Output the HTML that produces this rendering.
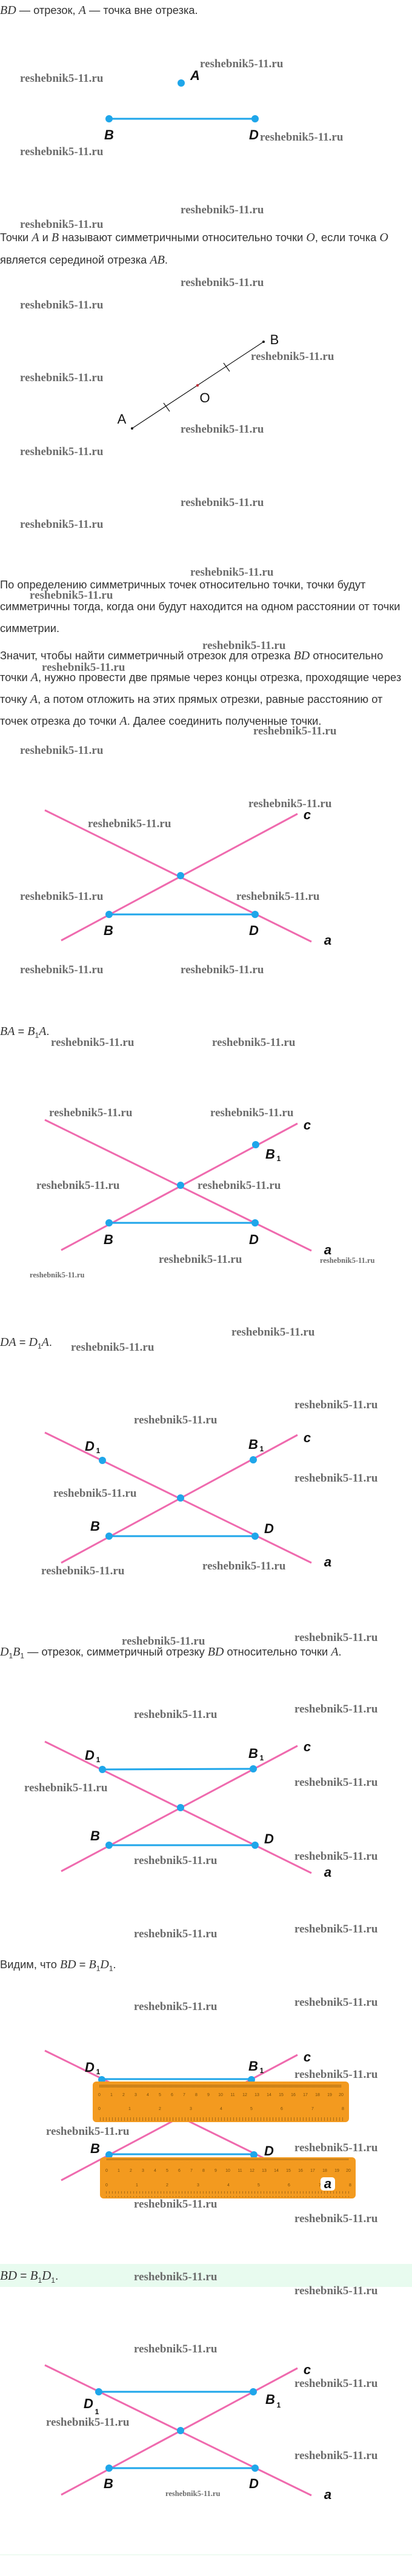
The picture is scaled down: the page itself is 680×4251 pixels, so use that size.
<!DOCTYPE html>
<html><head><meta charset="utf-8"><style>
body{margin:0;width:680px;height:4251px;position:relative;background:#fff;overflow:hidden}
.t{position:absolute;left:0;font:18.3px/22px "Liberation Sans",sans-serif;color:#333;white-space:nowrap}
.m{font-family:"Liberation Serif",serif;font-style:italic;font-size:20px}
.t sub{font-size:12px}
.w{position:absolute;font:bold 19px/22px "Liberation Serif",serif;color:#6c6c6c;white-space:nowrap}
.ws{font-size:12.5px;line-height:14px}
svg{position:absolute;left:0;top:0}
</style></head><body>
<div style="position:absolute;left:0;top:3736px;width:680px;height:38px;background:#e8fbef"></div>
<div style="position:absolute;left:0;top:4215px;width:680px;height:2px;background:#eefaf2"></div>

<div class="t" style="top:6px"><span class="m">BD</span> — отрезок, <span class="m">A</span> — точка вне отрезка.</div>
<div class="t" style="top:381px">Точки <span class="m">A</span> и <span class="m">B</span> называют симметричными относительно точки <span class="m">O</span>, если точка <span class="m">O</span></div>
<div class="t" style="top:418px">является серединой отрезка <span class="m">AB</span>.</div>
<div class="t" style="top:954px">По определению симметричных точек относительно точки, точки будут</div>
<div class="t" style="top:990px">симметричны тогда, когда они будут находится на одном расстоянии от точки</div>
<div class="t" style="top:1026px">симметрии.</div>
<div class="t" style="top:1071px">Значит, чтобы найти симметричный отрезок для отрезка <span class="m">BD</span> относительно</div>
<div class="t" style="top:1107px">точки <span class="m">A</span>, нужно провести две прямые через концы отрезка, проходящие через</div>
<div class="t" style="top:1143px">точку <span class="m">A</span>, а потом отложить на этих прямых отрезки, равные расстоянию от</div>
<div class="t" style="top:1179px">точек отрезка до точки <span class="m">A</span>. Далее соединить полученные точки.</div>
<div class="t" style="top:1691px"><span class="m">BA</span> = <span class="m">B</span><sub>1</sub><span class="m">A</span>.</div>
<div class="t" style="top:2204px"><span class="m">DA</span> = <span class="m">D</span><sub>1</sub><span class="m">A</span>.</div>
<div class="t" style="top:2715px"><span class="m">D</span><sub>1</sub><span class="m">B</span><sub>1</sub> — отрезок, симметричный отрезку <span class="m">BD</span> относительно точки <span class="m">A</span>.</div>
<div class="t" style="top:3231px">Видим, что <span class="m">BD</span> = <span class="m">B</span><sub>1</sub><span class="m">D</span><sub>1</sub>.</div>
<div class="t" style="top:3744px;font-size:19px"><span class="m" style="font-size:21px">BD</span> = <span class="m" style="font-size:21px">B</span><sub>1</sub><span class="m" style="font-size:21px">D</span><sub>1</sub>.</div>

<svg width="680" height="4251" viewBox="0 0 680 4251">
<defs>
<pattern id="mm" x="0" y="0" width="2" height="10" patternUnits="userSpaceOnUse"><rect x="0" y="0" width="0.7" height="5" fill="#8a5a10"/></pattern>
<pattern id="mmb" x="0" y="0" width="5" height="10" patternUnits="userSpaceOnUse"><rect x="0" y="4" width="0.7" height="6" fill="#8a5a10"/></pattern>
</defs>
<g font-family="Liberation Sans, sans-serif" font-weight="bold" font-style="italic" font-size="22" fill="#111" text-anchor="middle">
<line x1="180" y1="196" x2="421" y2="196" stroke="#1fa6ea" stroke-width="3"/>
<circle cx="299" cy="137" r="6" fill="#1fa6ea"/><circle cx="180" cy="196" r="6" fill="#1fa6ea"/><circle cx="421" cy="196" r="6" fill="#1fa6ea"/>
<text x="322" y="132">A</text><text x="180" y="230">B</text><text x="419" y="230">D</text>
<line x1="218" y1="707" x2="435" y2="564" stroke="#111" stroke-width="1.2"/>
<line x1="270" y1="665" x2="280" y2="679" stroke="#111" stroke-width="1.2"/>
<line x1="369" y1="599" x2="379" y2="613" stroke="#111" stroke-width="1.2"/>
<circle cx="218" cy="707" r="2" fill="#111"/><circle cx="435" cy="564" r="2" fill="#111"/><circle cx="326" cy="636" r="2.2" fill="#c0303a"/>
<g font-weight="normal" font-style="normal" font-size="22"><text x="453" y="568">B</text><text x="201" y="699">A</text><text x="338" y="664">O</text></g>
<g stroke="#ef6aae" stroke-width="3"><line x1="74" y1="1337" x2="514" y2="1554"/><line x1="101" y1="1552" x2="491" y2="1343"/></g>
<line x1="180" y1="1509" x2="421" y2="1509" stroke="#1fa6ea" stroke-width="3"/>
<circle cx="298" cy="1445" r="6" fill="#1fa6ea"/><circle cx="180" cy="1509" r="6" fill="#1fa6ea"/><circle cx="421" cy="1509" r="6" fill="#1fa6ea"/>
<text x="179" y="1543">B</text><text x="419" y="1543">D</text><text x="507" y="1352">c</text><text x="541" y="1559">a</text>
<g stroke="#ef6aae" stroke-width="3"><line x1="74" y1="1848" x2="514" y2="2064"/><line x1="101" y1="2063" x2="491" y2="1854"/></g>
<line x1="180" y1="2018" x2="421" y2="2018" stroke="#1fa6ea" stroke-width="3"/>
<circle cx="298" cy="1956" r="6" fill="#1fa6ea"/><circle cx="422" cy="1889" r="6" fill="#1fa6ea"/><circle cx="180" cy="2018" r="6" fill="#1fa6ea"/><circle cx="421" cy="2018" r="6" fill="#1fa6ea"/>
<text x="446" y="1912">B</text><text x="460" y="1916" font-size="12" font-style="normal">1</text>
<text x="179" y="2053">B</text><text x="419" y="2053">D</text><text x="507" y="1864">c</text><text x="541" y="2070">a</text>
<g stroke="#ef6aae" stroke-width="3"><line x1="74" y1="2364" x2="514" y2="2579"/><line x1="101" y1="2579" x2="491" y2="2368"/></g>
<line x1="180" y1="2535" x2="421" y2="2535" stroke="#1fa6ea" stroke-width="3"/>
<circle cx="298" cy="2472" r="6" fill="#1fa6ea"/><circle cx="169" cy="2410" r="6" fill="#1fa6ea"/><circle cx="418" cy="2409" r="6" fill="#1fa6ea"/><circle cx="180" cy="2535" r="6" fill="#1fa6ea"/><circle cx="421" cy="2535" r="6" fill="#1fa6ea"/>
<text x="148" y="2394">D</text><text x="162" y="2398" font-size="12" font-style="normal">1</text>
<text x="418" y="2391">B</text><text x="432" y="2395" font-size="12" font-style="normal">1</text>
<text x="157" y="2526">B</text><text x="444" y="2530">D</text><text x="507" y="2380">c</text><text x="541" y="2585">a</text>
<g stroke="#ef6aae" stroke-width="3"><line x1="74" y1="2874" x2="514" y2="3091"/><line x1="101" y1="3088" x2="491" y2="2881"/></g>
<line x1="169" y1="2920" x2="418" y2="2919" stroke="#1fa6ea" stroke-width="3"/>
<line x1="180" y1="3045" x2="421" y2="3045" stroke="#1fa6ea" stroke-width="3"/>
<circle cx="298" cy="2983" r="6" fill="#1fa6ea"/><circle cx="169" cy="2920" r="6" fill="#1fa6ea"/><circle cx="418" cy="2919" r="6" fill="#1fa6ea"/><circle cx="180" cy="3045" r="6" fill="#1fa6ea"/><circle cx="421" cy="3045" r="6" fill="#1fa6ea"/>
<text x="148" y="2904">D</text><text x="162" y="2908" font-size="12" font-style="normal">1</text>
<text x="418" y="2901">B</text><text x="432" y="2905" font-size="12" font-style="normal">1</text>
<text x="157" y="3037">B</text><text x="444" y="3042">D</text><text x="507" y="2890">c</text><text x="541" y="3097">a</text>
<g stroke="#ef6aae" stroke-width="3"><line x1="74" y1="3384" x2="514" y2="3600"/><line x1="101" y1="3598" x2="491" y2="3391"/></g>
<line x1="168" y1="3431" x2="415" y2="3431" stroke="#1fa6ea" stroke-width="3"/>
<line x1="180" y1="3555" x2="419" y2="3555" stroke="#1fa6ea" stroke-width="3"/>
<circle cx="168" cy="3432" r="6" fill="#1fa6ea"/><circle cx="415" cy="3432" r="6" fill="#1fa6ea"/><circle cx="180" cy="3556" r="6" fill="#1fa6ea"/><circle cx="419" cy="3556" r="6" fill="#1fa6ea"/>
<text x="148" y="3419">D</text><text x="162" y="3423" font-size="12" font-style="normal">1</text>
<text x="418" y="3417">B</text><text x="432" y="3421" font-size="12" font-style="normal">1</text>
<text x="157" y="3553">B</text><text x="444" y="3557">D</text><text x="507" y="3402">c</text>
<g font-style="normal" font-weight="normal" font-size="7" fill="#7a4e0a">
<rect x="153" y="3435" width="423" height="67" rx="6" fill="#f39a1f"/>
<rect x="163" y="3437" width="401" height="8" fill="url(#mm)"/>
<rect x="163" y="3490" width="403" height="10" fill="url(#mmb)"/>
<text x="164" y="3459">0</text><text x="184" y="3459">1</text><text x="204" y="3459">2</text><text x="224" y="3459">3</text><text x="244" y="3459">4</text><text x="264" y="3459">5</text><text x="284" y="3459">6</text><text x="304" y="3459">7</text><text x="324" y="3459">8</text><text x="344" y="3459">9</text><text x="364" y="3459">10</text><text x="384" y="3459">11</text><text x="404" y="3459">12</text><text x="424" y="3459">13</text><text x="444" y="3459">14</text><text x="464" y="3459">15</text><text x="484" y="3459">16</text><text x="504" y="3459">17</text><text x="524" y="3459">18</text><text x="544" y="3459">19</text><text x="563" y="3459">20</text>
<text x="164" y="3482">0</text><text x="214" y="3482">1</text><text x="264" y="3482">2</text><text x="315" y="3482">3</text><text x="365" y="3482">4</text><text x="415" y="3482">5</text><text x="465" y="3482">6</text><text x="516" y="3482">7</text><text x="566" y="3482">8</text>
<rect x="165" y="3560" width="422" height="68" rx="6" fill="#f39a1f"/>
<rect x="175" y="3562" width="401" height="8" fill="url(#mm)"/>
<rect x="175" y="3616" width="403" height="10" fill="url(#mmb)"/>
<text x="176" y="3584">0</text><text x="196" y="3584">1</text><text x="216" y="3584">2</text><text x="236" y="3584">3</text><text x="256" y="3584">4</text><text x="276" y="3584">5</text><text x="296" y="3584">6</text><text x="316" y="3584">7</text><text x="336" y="3584">8</text><text x="356" y="3584">9</text><text x="376" y="3584">10</text><text x="396" y="3584">11</text><text x="416" y="3584">12</text><text x="436" y="3584">13</text><text x="456" y="3584">14</text><text x="476" y="3584">15</text><text x="496" y="3584">16</text><text x="516" y="3584">17</text><text x="536" y="3584">18</text><text x="556" y="3584">19</text><text x="575" y="3584">20</text>
<text x="176" y="3608">0</text><text x="226" y="3608">1</text><text x="276" y="3608">2</text><text x="327" y="3608">3</text><text x="377" y="3608">4</text><text x="427" y="3608">5</text><text x="477" y="3608">6</text><text x="528" y="3608">7</text><text x="578" y="3608">8</text>
</g>
<rect x="529" y="3593" width="24" height="22" rx="5" fill="#fff"/>
<text x="541" y="3611">a</text>
<g stroke="#ef6aae" stroke-width="3"><line x1="74" y1="3903" x2="514" y2="4118"/><line x1="101" y1="4117" x2="491" y2="3908"/></g>
<line x1="163" y1="3947" x2="418" y2="3947" stroke="#1fa6ea" stroke-width="3"/>
<line x1="180" y1="4073" x2="421" y2="4073" stroke="#1fa6ea" stroke-width="3"/>
<circle cx="298" cy="4011" r="6" fill="#1fa6ea"/><circle cx="163" cy="3947" r="6" fill="#1fa6ea"/><circle cx="418" cy="3947" r="6" fill="#1fa6ea"/><circle cx="180" cy="4073" r="6" fill="#1fa6ea"/><circle cx="421" cy="4073" r="6" fill="#1fa6ea"/>
<text x="146" y="3974">D</text><text x="160" y="3984" font-size="12" font-style="normal">1</text>
<text x="446" y="3967">B</text><text x="460" y="3973" font-size="12" font-style="normal">1</text>
<text x="179" y="4106">B</text><text x="419" y="4106">D</text><text x="507" y="3918">c</text><text x="541" y="4124">a</text>
</g>
</svg>

<div class="w" style="left:330px;top:95px">reshebnik5-11.ru</div>
<div class="w" style="left:33px;top:119px">reshebnik5-11.ru</div>
<div class="w" style="left:429px;top:216px">reshebnik5-11.ru</div>
<div class="w" style="left:33px;top:240px">reshebnik5-11.ru</div>
<div class="w" style="left:298px;top:336px">reshebnik5-11.ru</div>
<div class="w" style="left:33px;top:360px">reshebnik5-11.ru</div>
<div class="w" style="left:298px;top:456px">reshebnik5-11.ru</div>
<div class="w" style="left:33px;top:493px">reshebnik5-11.ru</div>
<div class="w" style="left:414px;top:578px">reshebnik5-11.ru</div>
<div class="w" style="left:33px;top:613px">reshebnik5-11.ru</div>
<div class="w" style="left:298px;top:698px">reshebnik5-11.ru</div>
<div class="w" style="left:33px;top:735px">reshebnik5-11.ru</div>
<div class="w" style="left:298px;top:819px">reshebnik5-11.ru</div>
<div class="w" style="left:33px;top:855px">reshebnik5-11.ru</div>
<div class="w" style="left:314px;top:934px">reshebnik5-11.ru</div>
<div class="w" style="left:49px;top:972px">reshebnik5-11.ru</div>
<div class="w" style="left:334px;top:1055px">reshebnik5-11.ru</div>
<div class="w" style="left:69px;top:1091px">reshebnik5-11.ru</div>
<div class="w" style="left:418px;top:1196px">reshebnik5-11.ru</div>
<div class="w" style="left:33px;top:1228px">reshebnik5-11.ru</div>
<div class="w" style="left:410px;top:1316px">reshebnik5-11.ru</div>
<div class="w" style="left:145px;top:1349px">reshebnik5-11.ru</div>
<div class="w" style="left:33px;top:1469px">reshebnik5-11.ru</div>
<div class="w" style="left:390px;top:1469px">reshebnik5-11.ru</div>
<div class="w" style="left:33px;top:1590px">reshebnik5-11.ru</div>
<div class="w" style="left:298px;top:1590px">reshebnik5-11.ru</div>
<div class="w" style="left:84px;top:1710px">reshebnik5-11.ru</div>
<div class="w" style="left:350px;top:1710px">reshebnik5-11.ru</div>
<div class="w" style="left:81px;top:1826px">reshebnik5-11.ru</div>
<div class="w" style="left:347px;top:1826px">reshebnik5-11.ru</div>
<div class="w" style="left:60px;top:1946px">reshebnik5-11.ru</div>
<div class="w" style="left:326px;top:1946px">reshebnik5-11.ru</div>
<div class="w" style="left:262px;top:2068px">reshebnik5-11.ru</div>
<div class="w ws" style="left:528px;top:2073px">reshebnik5-11.ru</div>
<div class="w ws" style="left:49px;top:2097px">reshebnik5-11.ru</div>
<div class="w" style="left:117px;top:2213px">reshebnik5-11.ru</div>
<div class="w" style="left:382px;top:2188px">reshebnik5-11.ru</div>
<div class="w" style="left:486px;top:2308px">reshebnik5-11.ru</div>
<div class="w" style="left:221px;top:2333px">reshebnik5-11.ru</div>
<div class="w" style="left:486px;top:2429px">reshebnik5-11.ru</div>
<div class="w" style="left:88px;top:2454px">reshebnik5-11.ru</div>
<div class="w" style="left:68px;top:2582px">reshebnik5-11.ru</div>
<div class="w" style="left:334px;top:2574px">reshebnik5-11.ru</div>
<div class="w" style="left:486px;top:2692px">reshebnik5-11.ru</div>
<div class="w" style="left:201px;top:2698px">reshebnik5-11.ru</div>
<div class="w" style="left:221px;top:2819px">reshebnik5-11.ru</div>
<div class="w" style="left:486px;top:2810px">reshebnik5-11.ru</div>
<div class="w" style="left:40px;top:2940px">reshebnik5-11.ru</div>
<div class="w" style="left:486px;top:2931px">reshebnik5-11.ru</div>
<div class="w" style="left:221px;top:3060px">reshebnik5-11.ru</div>
<div class="w" style="left:486px;top:3053px">reshebnik5-11.ru</div>
<div class="w" style="left:221px;top:3181px">reshebnik5-11.ru</div>
<div class="w" style="left:486px;top:3173px">reshebnik5-11.ru</div>
<div class="w" style="left:221px;top:3301px">reshebnik5-11.ru</div>
<div class="w" style="left:486px;top:3294px">reshebnik5-11.ru</div>
<div class="w" style="left:486px;top:3413px">reshebnik5-11.ru</div>
<div class="w" style="left:76px;top:3507px">reshebnik5-11.ru</div>
<div class="w" style="left:486px;top:3534px">reshebnik5-11.ru</div>
<div class="w" style="left:221px;top:3627px">reshebnik5-11.ru</div>
<div class="w" style="left:486px;top:3651px">reshebnik5-11.ru</div>
<div class="w" style="left:221px;top:3747px">reshebnik5-11.ru</div>
<div class="w" style="left:486px;top:3770px">reshebnik5-11.ru</div>
<div class="w" style="left:221px;top:3866px">reshebnik5-11.ru</div>
<div class="w" style="left:486px;top:3923px">reshebnik5-11.ru</div>
<div class="w" style="left:76px;top:3987px">reshebnik5-11.ru</div>
<div class="w" style="left:486px;top:4042px">reshebnik5-11.ru</div>
<div class="w ws" style="left:273px;top:4108px">reshebnik5-11.ru</div>
</body></html>
